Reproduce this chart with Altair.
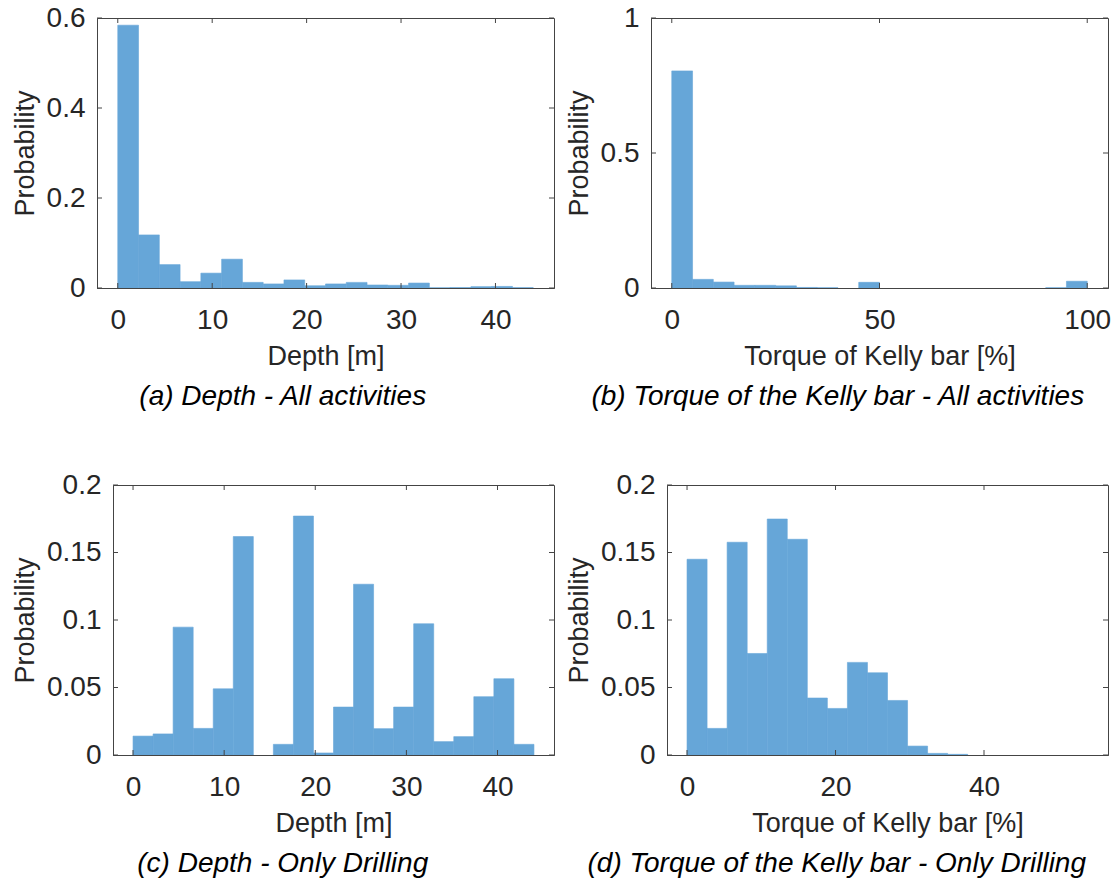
import altair as alt
import pandas as pd

# ---- histogram data (probability per bin) ----
depth_edges = [0, 2.2, 4.4, 6.6, 8.8, 11, 13.2, 15.4, 17.6, 19.8, 22,
               24.2, 26.4, 28.6, 30.8, 33, 35.2, 37.4, 39.6, 41.8, 44]
torque_all_edges = [0, 5, 10, 15, 20, 25, 30, 35, 40, 45, 50,
                    55, 60, 65, 70, 75, 80, 85, 90, 95, 100]
torque_drill_edges = [0, 2.7, 5.4, 8.1, 10.8, 13.5, 16.2, 18.9, 21.6, 24.3, 27,
                      29.7, 32.4, 35.1, 37.8, 40.5, 43.2, 45.9, 48.6, 51.3, 54]

depth_all_prob = [0.584, 0.118, 0.052, 0.014, 0.033, 0.064, 0.0125, 0.009, 0.018, 0.005,
                  0.009, 0.0125, 0.0067, 0.006, 0.011, 0.0005, 0.001, 0.003, 0.0035, 0.0008]
torque_all_prob = [0.804, 0.032, 0.022, 0.010, 0.010, 0.008, 0.002, 0.001, 0.0, 0.021,
                   0.0, 0.0, 0.0, 0.0, 0.0, 0.0, 0.0, 0.0, 0.001, 0.025]
depth_drill_prob = [0.014, 0.0156, 0.0947, 0.0197, 0.049, 0.1618, 0.0, 0.0079, 0.177, 0.0015,
                    0.0355, 0.1265, 0.0195, 0.0355, 0.0972, 0.0099, 0.0136, 0.0432, 0.0565, 0.0079]
torque_drill_prob = [0.145, 0.0197, 0.1576, 0.0752, 0.1748, 0.1598, 0.0422, 0.0345, 0.0686, 0.0609,
                     0.0404, 0.0066, 0.0012, 0.0005, 0.0, 0.0, 0.0, 0.0, 0.0, 0.0]

depth_ticks = [0, 10, 20, 30, 40]
torque_all_ticks = [0, 50, 100]
torque_drill_ticks = [0, 20, 40]
prob_ticks_all_depth = [0, 0.2, 0.4, 0.6]
prob_ticks_all_torque = [0, 0.5, 1]
prob_ticks_drill = [0, 0.05, 0.1, 0.15, 0.2]

FONT = "Liberation Sans"
BAR = "#66A6D8"
INK = "#262626"
FRAME = "#444444"
TICK_LEN = 5


def panel(edges, probs, x_domain, x_ticks, y_domain, y_ticks,
          x_title, caption, w, h, title_x):
    bins = pd.DataFrame({"lo": edges[:-1], "hi": edges[1:], "p": probs})
    xs = alt.Scale(domain=x_domain, nice=False, zero=False)
    ys = alt.Scale(domain=y_domain, nice=False, zero=False)

    x_axis = alt.Axis(
        values=x_ticks, title=x_title, format="d", grid=False,
        ticks=False, tickSize=0, domain=True, domainColor=FRAME, domainWidth=1,
        labelFont=FONT, labelFontSize=28, labelColor=INK,
        labelBaseline="alphabetic", labelPadding=40,
        labelFlush=False, labelOverlap=False,
        titleFont=FONT, titleFontSize=27, titleFontWeight="normal", titleColor=INK,
        titleBaseline="alphabetic", titleY=76, zindex=1,
    )
    y_axis = alt.Axis(
        values=y_ticks, title="Probability", format=".2~f", grid=False,
        ticks=False, tickSize=0, domain=True, domainColor=FRAME, domainWidth=1,
        labelFont=FONT, labelFontSize=28, labelColor=INK, labelPadding=12,
        labelFlush=False, labelOverlap=False,
        titleFont=FONT, titleFontSize=27, titleFontWeight="normal", titleColor=INK,
        titleBaseline="alphabetic", titleAngle=270, titleAlign="center",
        titleX=title_x, titleY=h / 2, zindex=1,
    )

    bars = alt.Chart(bins).transform_filter("datum.p > 0").mark_rect(
        color=BAR, stroke=BAR, strokeWidth=0.6
    ).encode(
        x=alt.X("lo:Q", scale=xs, axis=x_axis),
        x2="hi",
        y=alt.Y("p:Q", scale=ys, axis=y_axis),
        y2=alt.datum(0),
    )

    # inward tick marks on all four sides of the box
    xt = pd.DataFrame({"v": x_ticks})
    yt = pd.DataFrame({"v": y_ticks})
    rule = dict(color=FRAME, strokeWidth=1)
    ticks_bottom = alt.Chart(xt).mark_rule(**rule).encode(
        x=alt.X("v:Q", scale=xs, axis=x_axis),
        y=alt.value(h), y2=alt.value(h - TICK_LEN))
    ticks_top = alt.Chart(xt).mark_rule(**rule).encode(
        x=alt.X("v:Q", scale=xs, axis=x_axis),
        y=alt.value(0), y2=alt.value(TICK_LEN))
    ticks_left = alt.Chart(yt).mark_rule(**rule).encode(
        y=alt.Y("v:Q", scale=ys, axis=y_axis),
        x=alt.value(0), x2=alt.value(TICK_LEN))
    ticks_right = alt.Chart(yt).mark_rule(**rule).encode(
        y=alt.Y("v:Q", scale=ys, axis=y_axis),
        x=alt.value(w), x2=alt.value(w - TICK_LEN))

    return alt.layer(bars, ticks_bottom, ticks_top, ticks_left, ticks_right).properties(
        width=w, height=h,
        title=alt.TitleParams(
            text=caption, orient="bottom", anchor="middle", frame="bounds",
            font=FONT, fontSize=28, fontStyle="italic", fontWeight="normal",
            color="#000000", offset=14, baseline="top",
        ),
    )


def lead_in():
    # blank 1-px view at the start of each row so every row keeps its own
    # left edge (axis label widths differ between rows)
    return alt.Chart(pd.DataFrame({"v": [0]})).mark_point(opacity=0).encode(
        x=alt.X("v:Q", axis=None), y=alt.Y("v:Q", axis=None)
    ).properties(width=1, height=1, view=alt.ViewBackground(stroke="transparent"))


a = panel(depth_edges, depth_all_prob, [-2.2, 46.2], depth_ticks, [0, 0.6],
          prob_ticks_all_depth, "Depth [m]", "(a) Depth - All activities",
          457, 270, -64)
b = panel(torque_all_edges, torque_all_prob, [-5, 105], torque_all_ticks, [0, 1],
          prob_ticks_all_torque, "Torque of Kelly bar [%]",
          "(b) Torque of the Kelly bar - All activities", 457, 270, -64)
c = panel(depth_edges, depth_drill_prob, [-2.2, 46.2], depth_ticks, [0, 0.2],
          prob_ticks_drill, "Depth [m]", "(c) Depth - Only Drilling",
          441, 270, -80)
d = panel(torque_drill_edges, torque_drill_prob, [-2.7, 56.7], torque_drill_ticks, [0, 0.2],
          prob_ticks_drill, "Torque of Kelly bar [%]",
          "(d) Torque of the Kelly bar - Only Drilling", 441, 270, -80)

top_row = alt.hconcat(lead_in(), alt.hconcat(a, b, spacing=9), spacing=0)
bottom_row = alt.hconcat(lead_in(), alt.hconcat(c, d, spacing=9), spacing=0)

chart = alt.vconcat(top_row, bottom_row, spacing=58).properties(
    padding={"left": 3, "top": 3, "right": 0, "bottom": 0},
    background="white",
).configure_view(
    stroke=FRAME, strokeWidth=1,
)

chart.save("out.html", embed_options={"renderer": "svg", "actions": False})
